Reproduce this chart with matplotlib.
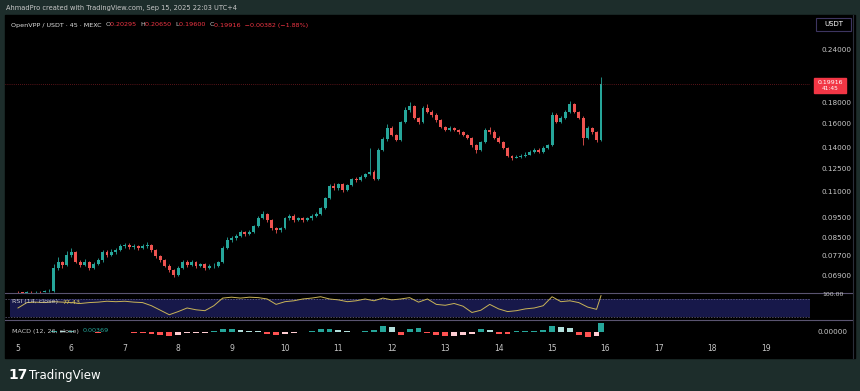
import numpy as np
import matplotlib
matplotlib.use('Agg')
import matplotlib.pyplot as plt
from matplotlib.patches import Rectangle

W, H = 860, 391

# 2h candles starting Sep 5 00:00
closes = [
    0.0630, 0.0628, 0.0631, 0.0629, 0.0632, 0.0630, 0.0633, 0.0635,
    0.0720, 0.0744, 0.0732, 0.0773, 0.0786, 0.0744, 0.0732, 0.0744,
    0.0720, 0.0736, 0.0752, 0.0786, 0.0773, 0.0786, 0.0795, 0.0812,
    0.0817, 0.0808, 0.0812, 0.0804, 0.0812, 0.0817, 0.0795, 0.0769,
    0.0752, 0.0728, 0.0712, 0.0692, 0.0720, 0.0744, 0.0732, 0.0744,
    0.0728, 0.0736, 0.0720, 0.0728, 0.0728, 0.0744, 0.0804, 0.0840,
    0.0849, 0.0859, 0.0878, 0.0869, 0.0878, 0.0908, 0.0949, 0.0970,
    0.0938, 0.0898, 0.0888, 0.0898, 0.0949, 0.0960, 0.0938, 0.0949,
    0.0938, 0.0949, 0.0960, 0.0970, 0.1003, 0.1060, 0.1132, 0.1120,
    0.1145, 0.1108, 0.1138, 0.1177, 0.1170, 0.1190, 0.1210, 0.1224,
    0.1177, 0.1381, 0.1468, 0.1560, 0.1501, 0.1460, 0.1612, 0.1723,
    0.1761, 0.1648, 0.1612, 0.1742, 0.1704, 0.1676, 0.1630, 0.1569,
    0.1543, 0.1560, 0.1543, 0.1526, 0.1501, 0.1476, 0.1420, 0.1381,
    0.1444, 0.1543, 0.1526, 0.1476, 0.1444, 0.1397, 0.1337, 0.1322,
    0.1330, 0.1337, 0.1344, 0.1367, 0.1381, 0.1367, 0.1397, 0.1420,
    0.1676, 0.1612, 0.1648, 0.1704, 0.1780, 0.1704, 0.1648, 0.1476,
    0.1560, 0.1526, 0.1460, 0.19916,
]
highs = [
    0.0634, 0.0632, 0.0634, 0.0633, 0.0635, 0.0634, 0.0636, 0.0640,
    0.0735, 0.0765, 0.0750, 0.0790, 0.0805, 0.0792, 0.0752, 0.0756,
    0.0750, 0.0745, 0.0760, 0.0795, 0.0795, 0.0798, 0.0805, 0.0820,
    0.0828, 0.0825, 0.0822, 0.0818, 0.0820, 0.0830, 0.0822, 0.0800,
    0.0775, 0.0758, 0.0735, 0.0716, 0.0728, 0.0752, 0.0752, 0.0752,
    0.0750, 0.0742, 0.0742, 0.0735, 0.0738, 0.0750, 0.0812, 0.0852,
    0.0860, 0.0868, 0.0888, 0.0885, 0.0886, 0.0915, 0.0960, 0.0985,
    0.0975, 0.0945, 0.0905, 0.0905, 0.0955, 0.0972, 0.0968, 0.0955,
    0.0955, 0.0955, 0.0968, 0.0978, 0.1010, 0.1068, 0.1145, 0.1150,
    0.1152, 0.1150, 0.1145, 0.1185, 0.1190, 0.1200, 0.1218, 0.1400,
    0.1235, 0.1395, 0.1485, 0.1590, 0.1575, 0.1510, 0.1625, 0.1750,
    0.1800, 0.1770, 0.1660, 0.1760, 0.1780, 0.1720, 0.1690, 0.1640,
    0.1580, 0.1575, 0.1570, 0.1550, 0.1530, 0.1510, 0.1480, 0.1428,
    0.1455, 0.1560, 0.1565, 0.1540, 0.1490, 0.1455, 0.1405, 0.1345,
    0.1345, 0.1350, 0.1365, 0.1380, 0.1395, 0.1400, 0.1410, 0.1430,
    0.1700, 0.1690, 0.1665, 0.1720, 0.1810, 0.1790, 0.1715, 0.1665,
    0.1575, 0.1565, 0.1535, 0.2065,
]
lows = [
    0.0627, 0.0625, 0.0627, 0.0626, 0.0628, 0.0627, 0.0629, 0.0631,
    0.0632, 0.0712, 0.0720, 0.0728, 0.0765, 0.0738, 0.0722, 0.0726,
    0.0712, 0.0716, 0.0730, 0.0745, 0.0765, 0.0768, 0.0778, 0.0790,
    0.0805, 0.0800, 0.0800, 0.0795, 0.0798, 0.0806, 0.0788, 0.0762,
    0.0745, 0.0722, 0.0705, 0.0685, 0.0688, 0.0715, 0.0725, 0.0728,
    0.0720, 0.0724, 0.0712, 0.0715, 0.0720, 0.0724, 0.0740, 0.0798,
    0.0832, 0.0842, 0.0852, 0.0860, 0.0862, 0.0872, 0.0902, 0.0942,
    0.0930, 0.0890, 0.0875, 0.0880, 0.0892, 0.0940, 0.0930, 0.0932,
    0.0930, 0.0932, 0.0940, 0.0952, 0.0962, 0.0995, 0.1052, 0.1105,
    0.1110, 0.1095, 0.1100, 0.1130, 0.1158, 0.1162, 0.1182, 0.1200,
    0.1168, 0.1172, 0.1370, 0.1455, 0.1490, 0.1448, 0.1450, 0.1600,
    0.1705, 0.1635, 0.1595, 0.1600, 0.1690, 0.1660, 0.1615, 0.1555,
    0.1530, 0.1530, 0.1530, 0.1510, 0.1490, 0.1465, 0.1405, 0.1360,
    0.1372, 0.1435, 0.1510, 0.1465, 0.1432, 0.1385, 0.1325, 0.1308,
    0.1318, 0.1322, 0.1330, 0.1340, 0.1362, 0.1355, 0.1360, 0.1385,
    0.1410, 0.1600, 0.1600, 0.1635, 0.1690, 0.1695, 0.1635, 0.1420,
    0.1465, 0.1505, 0.1445, 0.1450,
]
first_open = 0.0631
opens = [first_open] + closes[:-1]
days = 5 + np.arange(len(closes)) / 12

# RSI(14) and MACD histogram, sampled every 4h + last bar
rsi = [50, 62, 63, 62, 64, 63, 62, 60, 62, 63,
       65, 64, 65, 63, 62, 55, 45, 35, 42, 50,
       46, 44, 55, 72, 74, 72, 74, 73, 70, 58,
       64, 66, 70, 72, 75, 70, 68, 64, 66, 70,
       66, 72, 68, 70, 73, 63, 70, 58, 56, 60,
       54, 40, 45, 58, 48, 42, 44, 48, 50, 55,
       75, 64, 66, 62, 52, 47, 77.43]
macd_hist = [0.0000, 0.0002, 0.0002, 0.0001, 0.0006, 0.0004,
             0.0004, 0.0002, 0.0000, -0.0002, 0.0002, 0.0002,
             0.0001, -0.0002, -0.0004, -0.0008, -0.0012, -0.0014,
             -0.0010, -0.0004, -0.0004, -0.0003,
             0.0004, 0.0012, 0.0014, 0.0010, 0.0006, 0.0004,
             -0.0008, -0.0012, -0.0008, -0.0002,
             0.0002, 0.0006, 0.0012, 0.0012, 0.0008, 0.0004,
             0.0002, 0.0004, 0.0008,
             0.0024, 0.0020, -0.0012, 0.0012,
             0.0016, -0.0004, -0.0012,
             -0.0016, -0.0014, -0.0012,
             -0.0008, 0.0012,
             0.0010, -0.0006, -0.0008,
             0.0004, 0.0006, 0.0006, 0.0008,
             0.0024, 0.0020, 0.0016,
             -0.0012, -0.0020, -0.0016,
             0.00369]
ind_days = list(days[::2]) + [days[-1]]

price_ticks = [0.24, 0.18, 0.16, 0.14, 0.125, 0.11, 0.095, 0.085, 0.077, 0.069]
day_ticks = list(range(5, 20))

UP, DOWN = '#26a69a', '#ef5350'
TXT = '#c8c8c8'
FRAME = '#1d2d2b'

fig = plt.figure(figsize=(W / 100, H / 100), dpi=100)
fig.patch.set_facecolor(FRAME)
fig.patches.append(Rectangle((5 / W, 1 - 358 / H), 850 / W, 343 / H,
                             transform=fig.transFigure, color='black', zorder=-5))


def px_axes(x0, y0, x1, y1):
    ax = fig.add_axes([x0 / W, 1 - y1 / H, (x1 - x0) / W, (y1 - y0) / H])
    ax.set_facecolor('none')
    ax.set_zorder(2)
    for s in ax.spines.values():
        s.set_visible(False)
    ax.set_xlim(4.757, 19.83)
    return ax


def ftext(x, y, s, **kw):
    kw.setdefault('zorder', 5)
    return fig.text(x / W, 1 - y / H, s, **kw)


ax_p = px_axes(5, 15, 810, 293)
ax_r = px_axes(5, 293, 810, 320)
ax_m = px_axes(5, 320, 810, 340)

# price candles
colors = [UP if c >= o else DOWN for o, c in zip(opens, closes)]
ax_p.set_yscale('log')
ax_p.vlines(days, lows, highs, colors=colors, lw=0.6)
bodies = [max(abs(c - o), c * 0.002) for o, c in zip(opens, closes)]
ax_p.bar(days, bodies, bottom=np.minimum(opens, closes), width=0.055,
         color=colors, linewidth=0)
ax_p.set_ylim(0.0627, 0.291)
ax_p.axhline(closes[-1], color='#f23645', lw=0.5, ls=(0, (1, 2)), alpha=0.7)
ax_p.minorticks_off()
ax_p.yaxis.tick_right()
ax_p.set_yticks(price_ticks)
ax_p.set_yticklabels(['%.5f' % v for v in price_ticks])
ax_p.tick_params(axis='y', length=0, pad=8, labelsize=5.2, labelcolor=TXT)
ax_p.set_xticks([])

# RSI pane
ax_r.set_ylim(23.3, 83.3)
ax_r.axhspan(30, 70, xmin=0.006, xmax=1, color='#17184a', lw=0)
ax_r.axhline(70, color='#6e6a8a', lw=0.5, ls=(0, (2, 2)))
ax_r.axhline(30, color='#6e6a8a', lw=0.5, ls=(0, (2, 2)))
ax_r.plot(ind_days, rsi, color='#c9b458', lw=0.7)
ax_r.set_xticks([])
ax_r.set_yticks([])

# MACD pane
hist_colors = []
for k, v in enumerate(macd_hist):
    prev = macd_hist[k - 1] if k else 0
    if v >= 0:
        hist_colors.append('#26a69a' if v >= prev else '#b2dfdb')
    else:
        hist_colors.append('#ff5252' if v < prev else '#ffcdd2')
ax_m.bar(ind_days, macd_hist, width=0.11, color=hist_colors, linewidth=0)
ax_m.set_ylim(-0.0032, 0.0048)
ax_m.set_yticks([])
ax_m.set_xticks(day_ticks)
ax_m.set_xticklabels([str(d) for d in day_ticks])
ax_m.tick_params(axis='x', length=0, pad=3, labelsize=5.5, labelcolor=TXT)

# pane separators and frame line
for yy in (293, 320):
    fig.add_artist(plt.Line2D([5 / W, 853 / W], [1 - yy / H, 1 - yy / H],
                              color='#5a5470', lw=0.8, zorder=4))
fig.add_artist(plt.Line2D([853 / W, 853 / W], [1 - 15 / H, 1 - 358 / H],
                          color='#2a2e39', lw=0.8, zorder=4))

# right-side labels
ftext(833, 295, '100.00', color=TXT, fontsize=4.5, ha='center', va='center')
ftext(833, 332, '0.00000', color=TXT, fontsize=5.2, ha='center', va='center')
fig.patches.append(Rectangle((814 / W, 1 - 93 / H), 32 / W, 15 / H,
                             transform=fig.transFigure, color='#f23645', zorder=4))
ftext(830, 82, '0.19916', color='white', fontsize=4.5, ha='center', va='center')
ftext(830, 89, '41:45', color='white', fontsize=4.2, ha='center', va='center')
fig.patches.append(Rectangle((816 / W, 1 - 31 / H), 35 / W, 13 / H,
                             transform=fig.transFigure, facecolor='black',
                             edgecolor='#3d3560', lw=0.8, zorder=4))
ftext(833.5, 24.5, 'USDT', color='white', fontsize=5, ha='center', va='center')

# chained text labels
renderer = fig.canvas.get_renderer()


def chain(x, y, parts, size):
    for s, c in parts:
        t = ftext(x, y, s, color=c, fontsize=size, ha='left', va='center')
        x = t.get_window_extent(renderer).x1


RED = '#f23645'
chain(11, 25, [('OpenVPP / USDT · 45 · MEXC  ', '#e0e0e0'),
               ('O', TXT), ('0.20295  ', RED), ('H', TXT), ('0.20650  ', RED),
               ('L', TXT), ('0.19600  ', RED), ('C', TXT),
               ('0.19916  −0.00382 (−1.88%)', RED)], 4.6)
chain(12, 302, [('RSI (14, close)  ', TXT), ('77.43', '#d8c35a')], 4.6)
chain(12, 331, [('MACD (12, 26, close)  ', TXT), ('0.00369', UP)], 4.6)

# header / footer
ftext(6, 8, 'AhmadPro created with TradingView.com, Sep 15, 2025 22:03 UTC+4',
      color=TXT, fontsize=4.8, ha='left', va='center')
ftext(8, 375, '17', color='white', fontsize=10, fontweight='bold',
      ha='left', va='center')
ftext(29, 375, 'TradingView', color='white', fontsize=8.5,
      ha='left', va='center')

fig.savefig('out.png', dpi=100, facecolor=fig.get_facecolor())
